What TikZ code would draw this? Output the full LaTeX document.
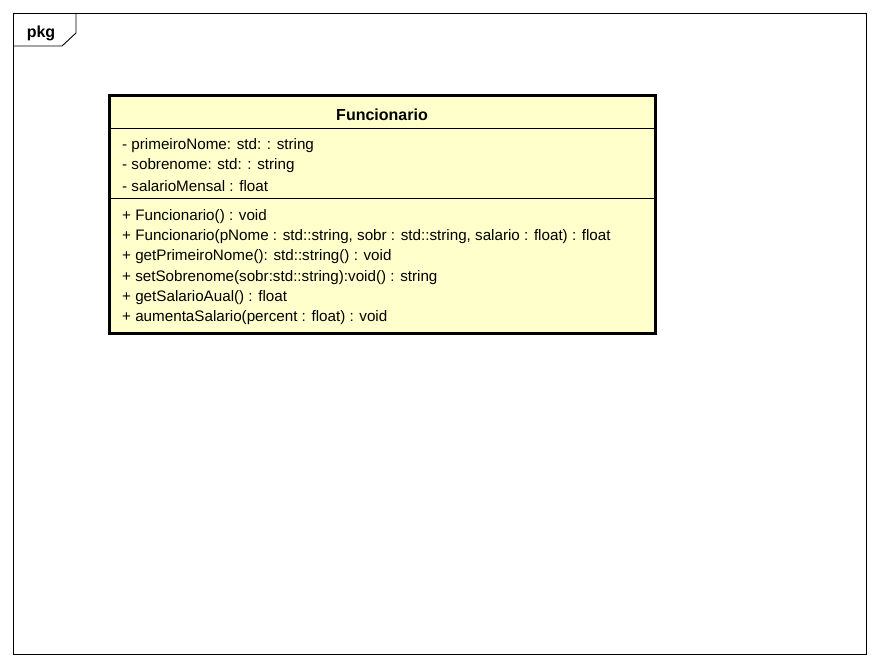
\documentclass[tikz,border=0pt]{standalone}
\usepackage{fontspec}
\setmainfont{Liberation Sans}
\definecolor{classfill}{RGB}{255,255,204}
\tikzset{
    member/.style={anchor=west, inner sep=0pt, font=\fontsize{15.2}{17}\selectfont},
    title/.style={inner sep=0pt, font=\fontsize{16}{18}\selectfont\bfseries},
}
\begin{document}
\begin{tikzpicture}[x=1pt, y=-1pt]
    \useasboundingbox (0,0) rectangle (880,666);
    % Package frame
    \draw[line width=0.9pt] (13,13) rectangle (866,654);
    \draw[line width=0.9pt] (13,46) -- (62,46) -- (76,33) -- (76,13);
    \node[title] (pkg) at (41,33) {pkg};

    % Class Funcionario
    \draw[fill=classfill, line width=3pt] (109,96) rectangle (655,333);
    \draw[line width=0.9pt] (109,128) -- (655,128);
    \draw[line width=0.9pt] (109,198) -- (655,198);
    \node[title] (cname) at (382,115) {Funcionario};

    % Attributes
    \node[member] (attrA) at (122,146) {- primeiroNome: std: : string};
    \node[member] (attrB) at (122,166) {- sobrenome: std: : string};
    \node[member] (attrC) at (122,186) {- salarioMensal : float};

    % Operations
    \node[member] (opA) at (122,217) {+ Funcionario() : void};
    \node[member] (opB) at (122,237) {+ Funcionario(pNome : std::string, sobr : std::string, salario : float) : float};
    \node[member] (opC) at (122,257) {+ getPrimeiroNome(): std::string() : void};
    \node[member] (opD) at (122,278) {+ setSobrenome(sobr:std::string):void() : string};
    \node[member] (opE) at (122,298) {+ getSalarioAual() : float};
    \node[member] (opF) at (122,318) {+ aumentaSalario(percent : float) : void};
\end{tikzpicture}
\end{document}
